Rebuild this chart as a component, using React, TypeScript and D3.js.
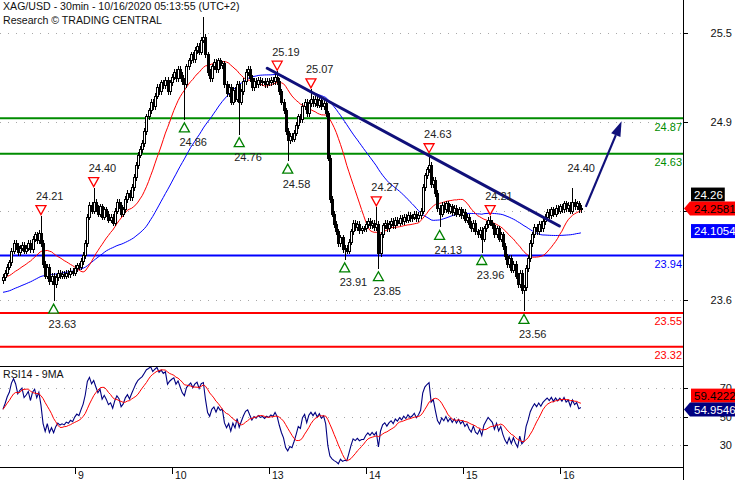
import { useEffect, useRef } from 'react';
import * as d3 from 'd3';

// 30min closes per session (UTC+2)
const day8 = [23.79, 23.82, 23.86, 23.89, 23.97, 24.02, 24.0, 23.96, 23.99, 24.01, 23.97, 23.99, 24.02, 23.98, 24.05, 24.08, 24.04, 24.09, 24.02, 23.88, 23.8, 23.86, 23.76, 23.8, 23.74, 23.79, 23.82, 23.8, 23.81, 23.8, 23.82, 23.81, 23.83, 23.82];
const day9 = [23.85, 23.87, 23.86, 23.9, 23.94, 24.02, 24.2, 24.28, 24.24, 24.3, 24.26, 24.22, 24.27, 24.2, 24.25, 24.22, 24.18, 24.2, 24.16, 24.24, 24.3, 24.28, 24.22, 24.25, 24.32, 24.36, 24.33, 24.4, 24.47, 24.55, 24.62, 24.66, 24.7, 24.78, 24.88, 24.92, 24.98, 24.95, 25.02, 25.08, 25.05, 25.11, 25.09, 25.13, 25.05, 25.11];
const day10 = [25.15, 25.18, 25.14, 25.2, 25.16, 25.12, 25.1, 25.22, 25.26, 25.3, 25.27, 25.33, 25.36, 25.32, 25.4, 25.42, 25.3, 25.18, 25.14, 25.22, 25.25, 25.2, 25.26, 25.23, 25.24, 25.1, 25.04, 25.08, 24.98, 25.06, 25.0, 25.1, 24.98, 25.05, 25.12, 25.18, 25.2, 25.14, 25.08, 25.12, 25.1, 25.13, 25.11, 25.12, 25.1, 25.12];
const day13 = [25.11, 25.13, 25.12, 25.15, 25.12, 25.05, 24.98, 24.92, 24.78, 24.72, 24.75, 24.73, 24.77, 24.82, 24.88, 24.86, 24.95, 24.98, 24.9, 24.97, 25.0, 24.97, 25.0, 24.96, 24.99, 24.95, 24.97, 24.9, 24.6, 24.32, 24.22, 24.15, 24.1, 24.02, 24.06, 23.98, 23.99, 23.97, 24.03, 24.1, 24.16, 24.13, 24.15, 24.11, 24.12, 24.12];
const day14 = [24.15, 24.17, 24.14, 24.16, 24.13, 24.15, 23.95, 24.08, 24.14, 24.16, 24.12, 24.15, 24.17, 24.14, 24.18, 24.16, 24.19, 24.17, 24.2, 24.18, 24.21, 24.19, 24.2, 24.22, 24.19, 24.21, 24.24, 24.4, 24.48, 24.52, 24.55, 24.42, 24.45, 24.36, 24.26, 24.22, 24.28, 24.25, 24.29, 24.24, 24.27, 24.23, 24.26, 24.22, 24.25, 24.21];
const day15 = [24.23, 24.18, 24.2, 24.15, 24.12, 24.16, 24.1, 24.08, 24.11, 24.05, 24.12, 24.15, 24.18, 24.16, 24.14, 24.08, 24.12, 24.05, 24.08, 24.0, 23.93, 23.88, 23.92, 23.84, 23.88, 23.8, 23.74, 23.82, 23.7, 23.72, 23.85, 23.92, 24.02, 24.08, 24.13, 24.1, 24.15, 24.12, 24.17, 24.2, 24.23, 24.21, 24.25, 24.22, 24.26, 24.24];
const day16 = [24.27, 24.25, 24.29, 24.26, 24.28, 24.24, 24.3, 24.27, 24.29, 24.25, 24.26];
const sessions = [day8, day9, day10, day13, day14, day15, day16];
const sessionLabels = ['8', '9', '10', '13', '14', '15', '16'];
const firstOpen = 23.77;

// swing highs / lows (bar index, price, kind)
const pivotBars = [18, 24, 43, 86, 95, 112, 130, 135, 146, 162, 177, 178, 202, 207, 227, 231, 247, 270];
const pivotPrices = [24.21, 23.63, 24.4, 24.86, 25.56, 24.76, 25.19, 24.58, 25.07, 23.91, 24.27, 23.85, 24.63, 24.13, 23.96, 24.21, 23.56, 24.4];
const pivotKinds = ['H', 'L', 'H', 'L', 'h', 'L', 'H', 'L', 'H', 'L', 'H', 'L', 'H', 'L', 'L', 'H', 'L', 'p'];

const levelValues = [24.87, 24.63, 23.94, 23.55, 23.32];
const levelRoles = ['resistance', 'resistance', 'pivot', 'support', 'support'];

const priceTicks = [25.447, 24.843, 24.239, 23.635];
const priceTickLabels = ['25.5', '24.9', '', '23.6'];
const rsiTicks = [70, 50, 30];

const trendBars = [125.3, 263.8];
const trendPrices = [25.21, 24.14];
const targetBars = [276.3, 293.3];
const targetPrices = [24.27, 24.85];

const lastClose = 24.26;
const lastFastMa = 24.2581;
const lastSlowMa = 24.1054;
const lastRsi = 54.9546;
const lastRsiMa = 59.4222;

// average level of the bars before the first visible one
const fastPrior = 23.794;
const slowPrior = 23.688;

const FONT = 'Liberation Sans, Arial, sans-serif';

function sma(values: number[], period: number, prior?: number) {
    return values.map((_, i) => {
        const win = values.slice(Math.max(0, i - period + 1), i + 1);
        if (prior === undefined) return d3.mean(win) as number;
        return (d3.sum(win) + (period - win.length) * prior) / period;
    });
}

function rsi(values: number[], period: number) {
    let gain = 0.012;
    let loss = 0.011;
    return values.map((v, i) => {
        const d = v - (i === 0 ? firstOpen : values[i - 1]);
        gain = (gain * (period - 1) + Math.max(d, 0)) / period;
        loss = (loss * (period - 1) + Math.max(-d, 0)) / period;
        return 100 - 100 / (1 + gain / loss);
    });
}

function App() {
    const chartRef = useRef<SVGSVGElement>(null);

    useEffect(() => {
        const svg = d3.select(chartRef.current);
        svg.selectAll('*').remove();

        const plotRight = 683;
        const mainBottom = 366;
        const rsiBottom = 467;

        const closes = sessions.flat();
        const opens = closes.map((c, i) => (i === 0 ? firstOpen : closes[i - 1]));
        const highs = closes.map((c, i) => Math.max(c, opens[i]) + 0.022);
        const lows = closes.map((c, i) => Math.min(c, opens[i]) - 0.022);
        pivotBars.forEach((b, k) => {
            if (pivotKinds[k] === 'L') lows[b] = pivotPrices[k];
            else highs[b] = pivotPrices[k];
        });

        const x = d3.scaleLinear().domain([0, closes.length - 1]).range([3, 580.9]);
        const y = d3.scaleLinear().domain([23.19, 25.673]).range([mainBottom, 0]);
        const yr = d3.scaleLinear().domain([14.5, 85.7]).range([rsiBottom, mainBottom]);

        const defs = svg.append('defs');
        defs.append('clipPath').attr('id', 'mainClip')
            .append('rect').attr('x', 0).attr('y', 0).attr('width', plotRight).attr('height', mainBottom);
        defs.append('clipPath').attr('id', 'rsiClip')
            .append('rect').attr('x', 0).attr('y', mainBottom).attr('width', plotRight).attr('height', rsiBottom - mainBottom);

        svg.append('rect').attr('width', 735).attr('height', 480).attr('fill', '#fff');

        // price grid
        const grid = svg.append('g');
        grid.selectAll('line.pg').data(priceTicks).enter().append('line')
            .attr('x1', 0).attr('x2', plotRight)
            .attr('y1', (d) => Math.round(y(d)) + 0.5).attr('y2', (d) => Math.round(y(d)) + 0.5)
            .attr('stroke', '#a8a8a8').attr('stroke-dasharray', '1,7');
        grid.selectAll('line.rg').data(rsiTicks).enter().append('line')
            .attr('x1', 0).attr('x2', plotRight)
            .attr('y1', (d) => Math.round(yr(d)) + 0.5).attr('y2', (d) => Math.round(yr(d)) + 0.5)
            .attr('stroke', '#a8a8a8').attr('stroke-dasharray', '1,7');

        const main = svg.append('g').attr('clip-path', 'url(#mainClip)');

        // support / resistance levels
        const levelColor: Record<string, string> = { resistance: '#008c00', pivot: '#0000ff', support: '#ff0000' };
        levelValues.forEach((v, k) => {
            main.append('line')
                .attr('x1', 0).attr('x2', plotRight)
                .attr('y1', y(v)).attr('y2', y(v))
                .attr('stroke', levelColor[levelRoles[k]]).attr('stroke-width', 2);
            main.append('text')
                .attr('x', 682).attr('y', y(v) + 12.5)
                .attr('text-anchor', 'end')
                .attr('font-family', FONT).attr('font-size', 11)
                .attr('fill', levelColor[levelRoles[k]])
                .text(v.toFixed(2));
        });

        // moving averages
        const fast = sma(closes, 20, fastPrior);
        const slow = sma(closes, 50, slowPrior);
        const line = d3.line<number>().x((_, i) => x(i)).y((d) => y(d));
        main.append('path').attr('d', line(slow)).attr('fill', 'none').attr('stroke', '#0000ff').attr('stroke-width', 1);
        main.append('path').attr('d', line(fast)).attr('fill', 'none').attr('stroke', '#ff0000').attr('stroke-width', 1);

        // candles
        const candles = main.append('g').attr('shape-rendering', 'crispEdges');
        closes.forEach((c, i) => {
            const cx = Math.round(x(i));
            candles.append('line')
                .attr('x1', cx + 0.5).attr('x2', cx + 0.5)
                .attr('y1', y(highs[i])).attr('y2', y(lows[i]))
                .attr('stroke', '#000');
            const top = y(Math.max(c, opens[i]));
            const bot = y(Math.min(c, opens[i]));
            candles.append('rect')
                .attr('x', cx - 0.5).attr('y', top)
                .attr('width', 2).attr('height', Math.max(1, bot - top))
                .attr('fill', c >= opens[i] ? '#fff' : '#000')
                .attr('stroke', '#000').attr('stroke-width', 1);
        });

        // trend line
        main.append('line')
            .attr('x1', x(trendBars[0])).attr('y1', y(trendPrices[0]))
            .attr('x2', x(trendBars[1])).attr('y2', y(trendPrices[1]))
            .attr('stroke', '#10107a').attr('stroke-width', 3).attr('stroke-linecap', 'round');

        // target arrow
        const ax0 = x(targetBars[0]);
        const ay0 = y(targetPrices[0]);
        const ax1 = x(targetBars[1]);
        const ay1 = y(targetPrices[1]);
        const len = Math.hypot(ax1 - ax0, ay1 - ay0);
        const ux = (ax1 - ax0) / len;
        const uy = (ay1 - ay0) / len;
        const bx = ax1 - ux * 15;
        const by = ay1 - uy * 15;
        main.append('line')
            .attr('x1', ax0).attr('y1', ay0).attr('x2', bx).attr('y2', by)
            .attr('stroke', '#10107a').attr('stroke-width', 2.2);
        main.append('polygon')
            .attr('points', `${ax1},${ay1} ${bx - uy * 5},${by + ux * 5} ${bx + uy * 5},${by - ux * 5}`)
            .attr('fill', '#10107a');

        // pivots
        pivotBars.forEach((b, k) => {
            const kind = pivotKinds[k];
            if (kind === 'h') return;
            const cx = x(b);
            const py = y(pivotPrices[k]);
            const label = pivotPrices[k].toFixed(2);
            if (kind === 'L') {
                main.append('polygon')
                    .attr('points', `${cx},${py + 3} ${cx - 5},${py + 12} ${cx + 5},${py + 12}`)
                    .attr('fill', '#fff').attr('stroke', '#008000').attr('stroke-width', 1.3);
                main.append('text').attr('x', cx - 5).attr('y', py + 26.5)
                    .attr('font-family', FONT).attr('font-size', 11).attr('fill', '#222').text(label);
            } else {
                if (kind === 'H') {
                    main.append('polygon')
                        .attr('points', `${cx - 5},${py - 10} ${cx + 5},${py - 10} ${cx},${py - 1}`)
                        .attr('fill', '#fff').attr('stroke', '#ff0000').attr('stroke-width', 1.3);
                }
                main.append('text').attr('x', cx - 5).attr('y', py - 15.5)
                    .attr('font-family', FONT).attr('font-size', 11).attr('fill', '#222').text(label);
            }
        });

        // title
        svg.append('text').attr('x', 3).attr('y', 10)
            .attr('font-family', FONT).attr('font-size', 10.6).attr('fill', '#111')
            .text('XAG/USD - 30min - 10/16/2020 05:13:55 (UTC+2)');
        svg.append('text').attr('x', 3).attr('y', 24)
            .attr('font-family', FONT).attr('font-size', 10.6).attr('fill', '#111')
            .text('Research © TRADING CENTRAL');

        // RSI panel
        const rsiValues = rsi(closes, 14);
        const rsiMa = sma(rsiValues, 9);
        const rsiPanel = svg.append('g').attr('clip-path', 'url(#rsiClip)');
        const rline = d3.line<number>().x((_, i) => x(i)).y((d) => yr(d));
        rsiPanel.append('path').attr('d', rline(rsiValues)).attr('fill', 'none').attr('stroke', '#000080').attr('stroke-width', 1.1);
        rsiPanel.append('path').attr('d', rline(rsiMa)).attr('fill', 'none').attr('stroke', '#ff0000').attr('stroke-width', 1);
        svg.append('text').attr('x', 3).attr('y', 377.5)
            .attr('font-family', FONT).attr('font-size', 10.6).attr('fill', '#111')
            .text('RSI14 - 9MA');

        // frame
        const frame = svg.append('g').attr('stroke', '#000').attr('shape-rendering', 'crispEdges');
        frame.append('line').attr('x1', 0).attr('x2', plotRight).attr('y1', mainBottom + 0.5).attr('y2', mainBottom + 0.5);
        frame.append('line').attr('x1', 0).attr('x2', plotRight).attr('y1', rsiBottom + 0.5).attr('y2', rsiBottom + 0.5);
        frame.append('line').attr('x1', plotRight + 0.5).attr('x2', plotRight + 0.5).attr('y1', 0).attr('y2', 480);

        // right axes
        const axisText = (yy: number, t: string) =>
            svg.append('text').attr('x', 732).attr('y', yy + 4).attr('text-anchor', 'end')
                .attr('font-family', FONT).attr('font-size', 11).attr('fill', '#111').text(t);
        priceTicks.forEach((t, k) => {
            frame.append('line').attr('x1', plotRight).attr('x2', plotRight + 5)
                .attr('y1', Math.round(y(t)) + 0.5).attr('y2', Math.round(y(t)) + 0.5);
            if (priceTickLabels[k]) axisText(y(t), priceTickLabels[k]);
        });
        rsiTicks.forEach((t) => {
            frame.append('line').attr('x1', plotRight).attr('x2', plotRight + 5)
                .attr('y1', Math.round(yr(t)) + 0.5).attr('y2', Math.round(yr(t)) + 0.5);
            axisText(yr(t), String(t));
        });

        // time axis
        let start = 0;
        sessions.forEach((s, k) => {
            if (k > 0) {
                const tx = Math.round(x(start)) + 0.5;
                frame.append('line').attr('x1', tx).attr('x2', tx).attr('y1', rsiBottom).attr('y2', rsiBottom + 7);
                svg.append('text').attr('x', tx + 2.5).attr('y', 478.5)
                    .attr('font-family', FONT).attr('font-size', 10.5).attr('fill', '#111')
                    .text(sessionLabels[k]);
            }
            start += s.length;
        });

        // last-value tags
        const tag = (yc: number, t: string, fill: string, color: string, pointer: boolean) => {
            const g = svg.append('g');
            const text = g.append('text').attr('x', 694).attr('y', yc + 4)
                .attr('font-family', FONT).attr('font-size', 11.5).attr('fill', color).text(t);
            const w = (text.node() as SVGTextElement).getComputedTextLength();
            const right = Math.min(735, 694 + w + 2);
            if (pointer) {
                g.insert('polygon', 'text')
                    .attr('points', `684,${yc} 690,${yc - 7} ${right},${yc - 7} ${right},${yc + 7} 690,${yc + 7}`)
                    .attr('fill', fill);
            } else {
                g.insert('rect', 'text').attr('x', 691).attr('y', yc - 7)
                    .attr('width', right - 691).attr('height', 14).attr('fill', fill);
            }
        };
        const avoid = (yBox: number, yPtr: number) =>
            Math.abs(yBox - yPtr) < 14 ? (yBox <= yPtr ? yPtr - 14 : yPtr + 14) : yBox;

        const yFast = y(lastFastMa);
        tag(avoid(y(lastClose), yFast), lastClose.toFixed(2), '#000', '#fff', false);
        tag(yFast, lastFastMa.toFixed(4), '#ff0000', '#000', true);
        tag(avoid(y(lastSlowMa), yFast), lastSlowMa.toFixed(4), '#0000ff', '#fff', false);
        const yRsi = yr(lastRsi);
        tag(avoid(yr(lastRsiMa), yRsi), lastRsiMa.toFixed(4), '#ff0000', '#000', false);
        tag(yRsi, lastRsi.toFixed(4), '#000080', '#fff', true);
    }, []);

    return (
        <svg
            ref={chartRef}
            width="735"
            height="480"
            style={{ position: 'absolute', left: 0, top: 0, display: 'block' }}
        ></svg>
    );
}

export default App;
